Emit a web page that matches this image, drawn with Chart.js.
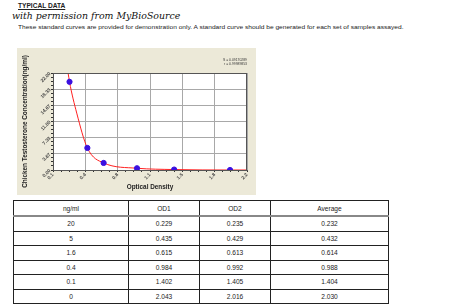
<!DOCTYPE html>
<html lang="en">
<head>
  <meta charset="UTF-8">
  <title>Typical data - Chicken Testosterone</title>
  <script src="https://cdn.jsdelivr.net/npm/chart.js"></script>
  <style>
    body {
      margin: 0;
      width: 450px;
      height: 307px;
      background: #fff;
      position: relative;
      overflow: hidden;
      font-family: 'Liberation Sans', Arial, sans-serif;
      color: #222;
    }
    .hdr { position: absolute; white-space: nowrap; }
    #title1 { left: 18px; top: 2px; font-size: 6.6px; font-weight: bold; text-decoration: underline; }
    #title2 { left: 12px; top: 10px; font-size: 9.4px; font-style: italic; font-family: 'DejaVu Serif', serif; color: #111; }
    #title3 { left: 18px; top: 24px; font-size: 6px; transform-origin: 0 0; }
    #panel {
      position: absolute;
      left: 17px; top: 48px;
      width: 239px; height: 147px;
      background: #ece9d8;
    }
    #stats {
      position: absolute;
      right: 9px; top: 10px;
      font-size: 3.4px; line-height: 4.4px;
      text-align: right; color: #333;
    }
    table {
      position: absolute;
      left: 13px; top: 200px;
      width: 375px;
      border-collapse: collapse;
      font-size: 6.6px;
      table-layout: fixed;
    }
    td, th {
      border: 1px solid #222;
      text-align: center;
      height: 13.5px;
      padding: 0;
      font-weight: normal;
    }
    th { height: 14px; border-bottom: 2px solid #888; }
  </style>
</head>
<body>
  <div class="hdr" id="title1">TYPICAL DATA</div>
  <div class="hdr" id="title2">with permission from MyBioSource</div>
  <div class="hdr" id="title3">These standard curves are provided for demonstration only. A standard curve should be generated for each set of samples assayed.</div>

  <div id="panel">
    <canvas id="curve" width="239" height="147"></canvas>
    <div id="stats">S = 0.09170289<br>r = 0.99989853</div>
  </div>

  <table id="tbl">
    <colgroup><col style="width:115px"><col style="width:71px"><col style="width:71px"><col style="width:118px"></colgroup>
    <thead><tr><th>ng/ml</th><th>OD1</th><th>OD2</th><th>Average</th></tr></thead>
    <tbody></tbody>
  </table>

  <script>
    // standard curve data (ng/ml vs optical density)
    const conc = [20, 5, 1.6, 0.4, 0.1, 0];
    const od1 = [0.229, 0.435, 0.615, 0.984, 1.402, 2.043];
    const od2 = [0.235, 0.429, 0.613, 0.992, 1.405, 2.016];
    const avg = [0.232, 0.432, 0.614, 0.988, 1.404, 2.030];

    // fitted curve
    const fitOD = [0.20, 0.232, 0.313, 0.432, 0.614, 0.988, 1.404, 2.03, 2.25];
    const fitConc = [24.2, 20, 12.9, 5, 1.6, 0.4, 0.1, 0, 0];

    const xLabels = ['0.1', '0.4', '0.8', '1.1', '1.5', '1.8', '2.2'];
    const yLabels = ['0.00', '3.67', '7.33', '11.00', '14.67', '18.33', '22.00'];

    // fill the table
    const tbody = document.querySelector('#tbl tbody');
    conc.forEach((c, i) => {
      const tr = document.createElement('tr');
      [c, od1[i].toFixed(3), od2[i].toFixed(3), avg[i].toFixed(3)].forEach(v => {
        const td = document.createElement('td');
        td.textContent = v;
        tr.appendChild(td);
      });
      tbody.appendChild(tr);
    });

    // squeeze the note line to its width in the picture
    const t3 = document.getElementById('title3');
    t3.style.transform = 'scaleX(' + (385 / t3.offsetWidth) + ')';

    const X_MIN = 0.047, X_MAX = 2.22, Y_MIN = 0, Y_MAX = 22;
    const SUB = 4;

    function evenTicks(min, max, majors) {
      const out = [];
      const n = (majors - 1) * SUB;
      for (let i = 0; i <= n; i++) out.push({ value: min + (max - min) * i / n });
      return out;
    }

    const plotBox = {
      id: 'plotBox',
      beforeDraw(chart) {
        const { ctx, chartArea: a } = chart;
        ctx.save();
        ctx.fillStyle = '#fff';
        ctx.fillRect(a.left, a.top, a.right - a.left, a.bottom - a.top);
        ctx.restore();
      },
      afterDatasetsDraw(chart) {
        const { ctx, chartArea: a } = chart;
        ctx.save();
        ctx.strokeStyle = '#555';
        ctx.lineWidth = 1;
        ctx.strokeRect(a.left + 0.5, a.top + 0.5, a.right - a.left - 1, a.bottom - a.top);
        ctx.restore();
      }
    };

    const tickFont = { family: 'Liberation Sans', size: 4.8, weight: 'bold' };
    const titleFont = { family: 'Liberation Sans', size: 6.4, weight: 'bold' };

    new Chart(document.getElementById('curve'), {
      type: 'scatter',
      data: {
        datasets: [
          {
            label: 'fit',
            data: fitOD.map((x, i) => ({ x: x, y: fitConc[i] })),
            showLine: true,
            borderColor: '#ff2020',
            borderWidth: 1,
            pointRadius: 0,
            cubicInterpolationMode: 'monotone',
            order: 2
          },
          {
            label: 'standards',
            data: avg.map((x, i) => ({ x: x, y: conc[i] })),
            backgroundColor: '#3a10e0',
            borderColor: '#3a10e0',
            pointRadius: 2.6,
            order: 1
          }
        ]
      },
      options: {
        responsive: false,
        animation: false,
        layout: { padding: { top: 25, right: 9, left: 0, bottom: 0 } },
        plugins: { legend: { display: false }, tooltip: { enabled: false } },
        scales: {
          x: {
            type: 'linear',
            min: X_MIN, max: X_MAX,
            afterBuildTicks: s => { s.ticks = evenTicks(X_MIN, X_MAX, xLabels.length); },
            afterFit: s => { s.height = 25; },
            border: { display: true, color: '#555' },
            grid: {
              color: c => c.index % SUB === 0 ? '#a8a8a8' : 'rgba(0,0,0,0)',
              tickColor: '#333',
              tickLength: 2
            },
            ticks: {
              autoSkip: false,
              minRotation: 45, maxRotation: 45,
              padding: 0,
              color: '#444',
              font: tickFont,
              callback: (v, i) => i % SUB === 0 ? xLabels[i / SUB] : ''
            },
            title: { display: true, text: 'Optical Density', color: '#222', font: titleFont, padding: { top: 0, bottom: 4 } }
          },
          y: {
            type: 'linear',
            min: Y_MIN, max: Y_MAX,
            afterBuildTicks: s => { s.ticks = evenTicks(Y_MIN, Y_MAX, yLabels.length); },
            afterFit: s => { s.width = 36; },
            border: { display: true, color: '#555' },
            grid: {
              color: c => c.index % SUB === 0 ? '#a8a8a8' : 'rgba(0,0,0,0)',
              tickColor: '#333',
              tickLength: 2
            },
            ticks: {
              autoSkip: false,
              minRotation: 45, maxRotation: 45,
              padding: 1,
              color: '#444',
              font: tickFont,
              callback: (v, i) => i % SUB === 0 ? yLabels[i / SUB] : ''
            },
            title: { display: true, text: 'Chicken Testosterone Concentration(ng/ml)', color: '#222', font: titleFont, padding: { top: 4, bottom: 0 } }
          }
        }
      },
      plugins: [plotBox]
    });
  </script>
</body>
</html>
